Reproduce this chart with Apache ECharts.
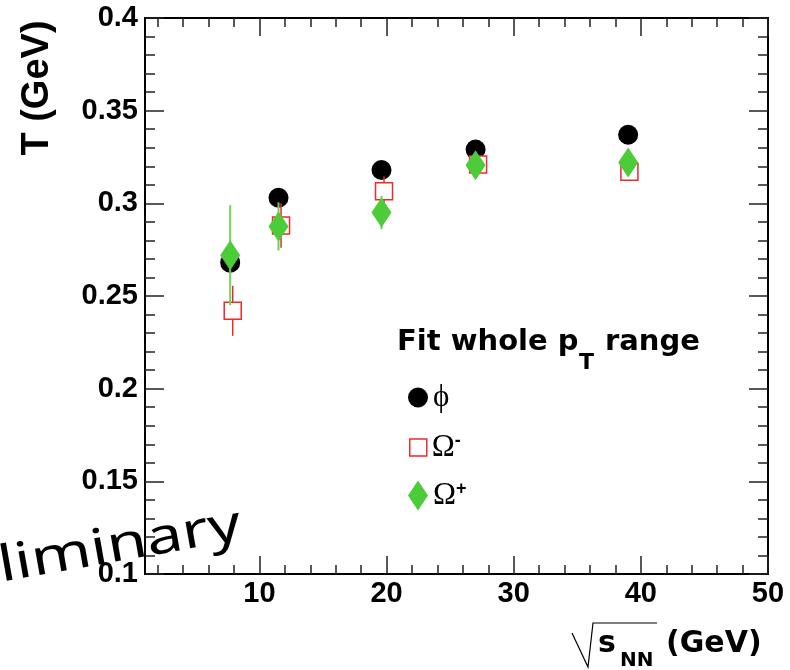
<!DOCTYPE html>
<html><head><meta charset="utf-8">
<script src="https://cdn.jsdelivr.net/npm/echarts@6/dist/echarts.min.js"></script>
<style>html,body{margin:0;padding:0;background:#fff}#c{width:790px;height:670px}</style>
</head><body><div id="c"></div>
<script>
// ---- data ----
const energy = [7.7, 11.5, 19.6, 27, 39];
const phiT = [0.268, 0.303, 0.318, 0.329, 0.337];
const omMinusX = [7.9, 11.7, 19.8, 27.2, 39.1];
const omMinusT = [0.242, 0.288, 0.3065, 0.321, 0.317];
const omMinusErr = [0.0135, 0.012, 0.008, 0.004, 0.004];
const omPlusT = [0.272, 0.2875, 0.295, 0.3205, 0.322];
const omPlusErr = [0.027, 0.013, 0.009, 0.005, 0.005];
const seriesNames = ['ϕ', 'Ω-', 'Ω+'];
const xMajorTicks = [10, 20, 30, 40, 50];
const xMinorTicks = [2, 4, 6, 8, 12, 14, 16, 18, 22, 24, 26, 28, 32, 34, 36, 38, 42, 44, 46, 48];
const yMajorTicks = [0.1, 0.15, 0.2, 0.25, 0.3, 0.35, 0.4];
const yMinorTicks = [0.11, 0.12, 0.13, 0.14, 0.16, 0.17, 0.18, 0.19, 0.21, 0.22, 0.23, 0.24,
  0.26, 0.27, 0.28, 0.29, 0.31, 0.32, 0.33, 0.34, 0.36, 0.37, 0.38, 0.39];

const RED = '#ee2a2a', GREEN = '#4ccc38', GREEN_BAR = '#6fd25c';
const tickFont = {fontFamily: 'Liberation Sans', fontWeight: 'bold', fontSize: 29, color: '#000'};

function xAx(pos, ticks, len, withLabels) {
  return {
    type: 'value', min: 1, max: 50, position: pos,
    axisLine: {show: true, onZero: false, lineStyle: {color: '#000', width: 2}},
    axisTick: {show: true, inside: true, length: len, customValues: ticks, lineStyle: {color: '#222', width: 1.5}},
    axisLabel: withLabels ? Object.assign({show: true, margin: 5, customValues: xMajorTicks}, tickFont) : {show: false},
    splitLine: {show: false}
  };
}
function yAx(pos, ticks, len, withLabels) {
  return {
    type: 'value', min: 0.1, max: 0.4, position: pos,
    axisLine: {show: true, onZero: false, lineStyle: {color: '#000', width: 2}},
    axisTick: {show: true, inside: true, length: len, customValues: ticks, lineStyle: {color: '#222', width: 1.5}},
    axisLabel: withLabels ? Object.assign({show: true, margin: 7, customValues: yMajorTicks,
      formatter: v => String(+(+v).toFixed(2))}, tickFont) : {show: false},
    splitLine: {show: false}
  };
}

function errBars(xs, ys, es) {
  return xs.map((x, i) => [x, ys[i] - es[i], ys[i] + es[i]]);
}
function barRender(color, width) {
  return function (params, api) {
    const p1 = api.coord([api.value(0), api.value(1)]);
    const p2 = api.coord([api.value(0), api.value(2)]);
    return {type: 'line', shape: {x1: p1[0], y1: p1[1], x2: p2[0], y2: p2[1]},
      style: {stroke: color, lineWidth: width}};
  };
}

const legendText = {
  fontFamily: 'Liberation Serif, DejaVu Serif', fontSize: 31, color: '#000',
  rich: {
    g: {fontFamily: 'Liberation Serif, DejaVu Serif', fontSize: 31, color: '#000'},
    sup: {fontFamily: 'Liberation Sans', fontWeight: 'bold', fontSize: 18, color: '#000', verticalAlign: 'top'}
  }
};
const legendFmt = n => n === 'ϕ' ? '{g|ϕ}' : '{g|Ω}{sup|' + n.slice(1) + '}';

const chart = echarts.init(document.getElementById('c'), null, {renderer: 'canvas'});
chart.setOption({
  animation: false,
  backgroundColor: '#fff',
  grid: {left: 145, top: 18, right: 22, bottom: 96, containLabel: false},
  xAxis: [xAx('bottom', xMajorTicks, 18, true), xAx('bottom', xMinorTicks, 9, false),
          xAx('top', xMajorTicks, 18, false), xAx('top', xMinorTicks, 9, false)],
  yAxis: [yAx('left', yMajorTicks, 19, true), yAx('left', yMinorTicks, 10, false),
          yAx('right', yMajorTicks, 19, false), yAx('right', yMinorTicks, 10, false)],
  legend: [
    {data: [seriesNames[0]], left: 403, top: 377, itemWidth: 20, itemHeight: 20, selectedMode: false,
     itemStyle: {color: '#000', opacity: 1},
     textStyle: legendText, formatter: legendFmt},
    {data: [seriesNames[1]], left: 404, top: 427, itemWidth: 17, itemHeight: 17, selectedMode: false,
     itemStyle: {color: '#fff', borderColor: RED, borderWidth: 1.5, opacity: 1},
     textStyle: legendText, formatter: legendFmt},
    {data: [seriesNames[2]], left: 403, top: 475, itemWidth: 20, itemHeight: 30, symbolKeepAspect: false,
     itemStyle: {color: GREEN, opacity: 1},
     selectedMode: false, textStyle: legendText, formatter: legendFmt}
  ],
  series: [
    {name: seriesNames[0], type: 'scatter', symbol: 'circle', symbolSize: 20, z: 2,
     itemStyle: {color: '#000', opacity: 1}, data: energy.map((x, i) => [x, phiT[i]])},
    {type: 'custom', z: 3, renderItem: barRender(RED, 1.5), encode: {x: 0, y: [1, 2]},
     data: errBars(omMinusX, omMinusT, omMinusErr), silent: true},
    {name: seriesNames[1], type: 'scatter', symbol: 'rect', symbolSize: 17, z: 4,
     itemStyle: {color: '#fff', borderColor: RED, borderWidth: 1.5, opacity: 1},
     data: omMinusX.map((x, i) => [x, omMinusT[i]])},
    {type: 'custom', z: 5, renderItem: barRender(GREEN_BAR, 2), encode: {x: 0, y: [1, 2]},
     data: errBars(energy, omPlusT, omPlusErr), silent: true},
    {name: seriesNames[2], type: 'scatter', symbol: 'diamond', symbolSize: [20, 30], z: 6,
     itemStyle: {color: GREEN, opacity: 1}, data: energy.map((x, i) => [x, omPlusT[i]])}
  ],
  graphic: [
    {type: 'text', x: 38, y: 88, rotation: Math.PI / 2, z: 10,
     style: {text: 'T (GeV)', font: 'bold 38px "Liberation Sans"', fill: '#000', align: 'center', verticalAlign: 'middle'}},
    {type: 'polyline', z: 10, shape: {points: [[572, 633], [588, 667], [593, 623], [657, 623]]},
     style: {stroke: '#000', lineWidth: 1.2, fill: null}},
    {type: 'text', x: 598, y: 644, z: 10,
     style: {text: 's', font: 'bold 30px "DejaVu Sans"', fill: '#000', align: 'left', verticalAlign: 'middle'}},
    {type: 'text', x: 620, y: 661, z: 10,
     style: {text: 'NN', font: 'bold 20px "DejaVu Sans"', fill: '#000', align: 'left', verticalAlign: 'middle'}},
    {type: 'text', x: 666, y: 644, z: 10,
     style: {text: '(GeV)', font: 'bold 30px "DejaVu Sans"', fill: '#000', align: 'left', verticalAlign: 'middle'}},
    {type: 'text', x: 397, y: 342, z: 10,
     style: {text: 'Fit whole p', font: 'bold 29px "DejaVu Sans"', fill: '#000', align: 'left', verticalAlign: 'middle'}},
    {type: 'text', x: 579, y: 363, z: 10,
     style: {text: 'T', font: 'bold 22px "DejaVu Sans"', fill: '#000', align: 'left', verticalAlign: 'middle'}},
    {type: 'text', x: 605, y: 342, z: 10,
     style: {text: 'range', font: 'bold 29px "DejaVu Sans"', fill: '#000', align: 'left', verticalAlign: 'middle'}},
    {type: 'text', x: 241, y: 525, rotation: 10 * Math.PI / 180, scaleX: 1.29, z: 20,
     style: {text: 'Preliminary', font: '50px "Noto Sans"', fill: '#000', align: 'right', verticalAlign: 'middle'}}
  ]
});
</script></body></html>
